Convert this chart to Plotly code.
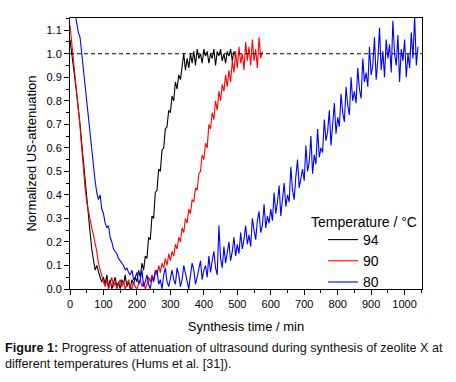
import plotly.graph_objects as go

step = 5

t94_vals = [1.06, 1.01, 0.95, 0.89, 0.83, 0.77, 0.70, 0.62, 0.54, 0.45,
            0.37, 0.30, 0.24, 0.17, 0.12, 0.08, 0.10, 0.07, 0.05, 0.03,
            0.05, 0.02, 0.06, 0.01, 0.04, 0.00, 0.03, 0.05, 0.01, 0.03,
            0.00, 0.04, 0.02, 0.06, 0.01, 0.03, 0.00, 0.04, 0.02, 0.05,
            0.03, 0.08, 0.05, 0.11, 0.08, 0.14, 0.13, 0.22, 0.21, 0.31,
            0.30, 0.41, 0.42, 0.51, 0.50, 0.59, 0.60, 0.68, 0.69, 0.76,
            0.75, 0.82, 0.80, 0.88, 0.85, 0.91, 0.89, 0.96, 1.00, 0.93,
            0.98, 0.94, 1.00, 0.96, 1.01, 0.95, 1.02, 0.98, 1.00, 0.96,
            1.02, 0.99, 1.01, 0.96, 1.00, 0.98, 1.02, 0.95, 1.01, 0.99,
            1.02, 0.97, 1.00, 0.96, 1.01, 0.99, 1.02, 0.97, 1.01, 0.99]

t90_vals = [1.12, 1.05, 0.97, 0.90, 0.84, 0.78, 0.69, 0.60, 0.51, 0.43,
            0.37, 0.33, 0.30, 0.26, 0.23, 0.20, 0.16, 0.11, 0.08, 0.05,
            0.03, 0.01, 0.04, 0.00, 0.02, 0.05, 0.01, 0.03, 0.00, 0.02,
            0.04, 0.01, 0.03, 0.00, 0.02, 0.04, 0.01, 0.00, 0.03, 0.01,
            0.00, 0.02, 0.04, 0.01, 0.03, 0.00, 0.02, 0.05, 0.03, 0.06,
            0.04, 0.08, 0.06, 0.10, 0.07, 0.11, 0.09, 0.13, 0.10, 0.15,
            0.12, 0.16, 0.14, 0.19, 0.17, 0.22, 0.20, 0.26, 0.24, 0.30,
            0.28, 0.34, 0.32, 0.38, 0.37, 0.43, 0.42, 0.49, 0.50, 0.57,
            0.55, 0.62, 0.60, 0.70, 0.68, 0.75, 0.72, 0.80, 0.76, 0.84,
            0.80, 0.87, 0.84, 0.91, 0.86, 0.93, 0.88, 0.97, 0.92, 1.01,
            0.94, 1.03, 0.96, 1.00, 0.93, 1.05, 0.97, 1.03, 0.95, 1.06,
            0.97, 1.02, 0.94, 1.07, 0.98, 1.01]

t80_vals = [1.30, 1.26, 1.22, 1.17, 1.14, 1.09, 1.07, 1.00, 0.95, 0.88,
            0.80, 0.74, 0.66, 0.58, 0.51, 0.46, 0.41, 0.38, 0.40, 0.34,
            0.32, 0.28, 0.26, 0.27, 0.22, 0.20, 0.17, 0.16, 0.15, 0.13,
            0.12, 0.11, 0.10, 0.08, 0.09, 0.07, 0.06, 0.08, 0.04, 0.05,
            0.07, 0.02, 0.04, 0.08, 0.01, 0.03, 0.06, 0.02, 0.00, 0.05,
            0.03, 0.07, 0.08, 0.02, 0.04, 0.00, 0.06, 0.09, 0.03, 0.01,
            0.05, 0.08, 0.04, 0.02, 0.09, 0.06, 0.01, 0.04, 0.10, 0.07,
            0.03, 0.00, 0.06, 0.11, 0.08, 0.02, 0.05, 0.09, 0.12, 0.04,
            0.08, 0.10, 0.05, 0.14, 0.07, 0.12, 0.16, 0.09, 0.06, 0.27,
            0.13, 0.09, 0.18, 0.11, 0.15, 0.20, 0.12, 0.16, 0.22, 0.14,
            0.19, 0.15, 0.24, 0.17, 0.21, 0.27, 0.19, 0.23, 0.18, 0.30,
            0.25, 0.21, 0.29, 0.33, 0.24, 0.27, 0.36, 0.26, 0.31, 0.28,
            0.34, 0.29, 0.41, 0.32, 0.37, 0.44, 0.31, 0.38, 0.45, 0.35,
            0.40, 0.37, 0.52, 0.42, 0.38, 0.48, 0.55, 0.43, 0.47, 0.51,
            0.46, 0.61, 0.50, 0.54, 0.65, 0.49, 0.57, 0.53, 0.68, 0.56,
            0.60, 0.58, 0.72, 0.63, 0.67, 0.76, 0.61, 0.70, 0.79, 0.66,
            0.73, 0.69, 0.83, 0.75, 0.71, 0.86, 0.78, 0.74, 0.90, 0.80,
            0.84, 0.79, 0.94, 0.85, 0.81, 0.98, 0.88, 0.92, 0.86, 1.03,
            0.91, 0.95, 1.07, 0.89, 0.97, 1.11, 0.93, 1.01, 0.90, 1.06,
            0.98, 1.04, 0.92, 1.14, 1.00, 0.95, 1.08, 0.88, 1.02, 0.97,
            1.06, 0.90, 1.00, 0.94, 1.09, 0.98, 1.16, 0.95, 1.03]

series_names = ["94", "90", "80"]
series_colors = ["#000000", "#ff0000", "#0000ff"]
series_values = [t94_vals, t90_vals, t80_vals]

x_ticks = [0, 100, 200, 300, 400, 500, 600, 700, 800, 900, 1000]
y_ticks = [0.0, 0.1, 0.2, 0.3, 0.4, 0.5, 0.6, 0.7, 0.8, 0.9, 1.0, 1.1]
reference_level = 1.0

FONT = "Arial, Liberation Sans, sans-serif"

W, H = 456, 382
ML, MR, MT, MB = 70, 34, 18, 93
PW, PH = W - ML - MR, H - MT - MB


# page pixel -> paper coordinates
def px(p):
    return (p - ML) / PW


def py(p):
    return (H - MB - p) / PH


fig = go.Figure()
for name, color, vals in zip(series_names, series_colors, series_values):
    times = [i * step for i in range(len(vals))]
    fig.add_trace(go.Scatter(x=times, y=vals, mode="lines", name=name,
                             line=dict(color=color, width=1.1)))

fig.add_shape(type="line", xref="paper", yref="y", x0=0, x1=1,
              y0=reference_level, y1=reference_level,
              line=dict(color="black", width=1, dash="4px,3px"))

axis_common = dict(showline=True, linecolor="black", linewidth=1, mirror=True,
                   ticks="outside", ticklen=5, tickwidth=1, tickcolor="black",
                   showgrid=False, zeroline=False,
                   tickfont=dict(family=FONT, size=11, color="black"))

fig.update_xaxes(range=[0, 1052], tickvals=x_ticks,
                 minor=dict(ticks="outside", ticklen=3, tickcolor="black",
                            dtick=50, tick0=0),
                 title=dict(text="Synthesis time / min", standoff=12,
                            font=dict(family=FONT, size=13, color="black")),
                 **axis_common)
fig.update_yaxes(range=[0, 1.152], tickvals=y_ticks, tickformat=".1f",
                 minor=dict(ticks="outside", ticklen=3, tickcolor="black",
                            dtick=0.05, tick0=0),
                 title=dict(text="Normalized US-attenuation", standoff=6,
                            font=dict(family=FONT, size=13, color="black")),
                 **axis_common)

fig.add_annotation(xref="paper", yref="paper", x=px(364), y=py(222),
                   text="Temperature / °C",
                   showarrow=False, xanchor="center", yanchor="middle",
                   font=dict(family=FONT, size=14, color="black"))

fig.add_annotation(xref="paper", yref="paper", x=px(3), y=py(339),
                   text="<b>Figure 1:</b> Progress of attenuation of ultrasound during synthesis of zeolite X at<br>different temperatures (Hums et al. [31]).",
                   showarrow=False, xanchor="left", yanchor="top", align="left",
                   font=dict(family=FONT, size=12.6, color="#111111"))

fig.update_layout(
    width=W, height=H,
    margin=dict(l=ML, r=MR, t=MT, b=MB, autoexpand=False),
    paper_bgcolor="white", plot_bgcolor="white",
    showlegend=True,
    legend=dict(x=px(323), y=py(224),
                xanchor="left", yanchor="top",
                bgcolor="rgba(0,0,0,0)", borderwidth=0,
                font=dict(family=FONT, size=14, color="black"),
                tracegroupgap=0, itemwidth=30),
)

# remove the default 8px page margin so the figure fills the window exactly
fig.write_html("out.html",
               config={"displayModeBar": False},
               post_script="document.body.style.margin='0px';")
